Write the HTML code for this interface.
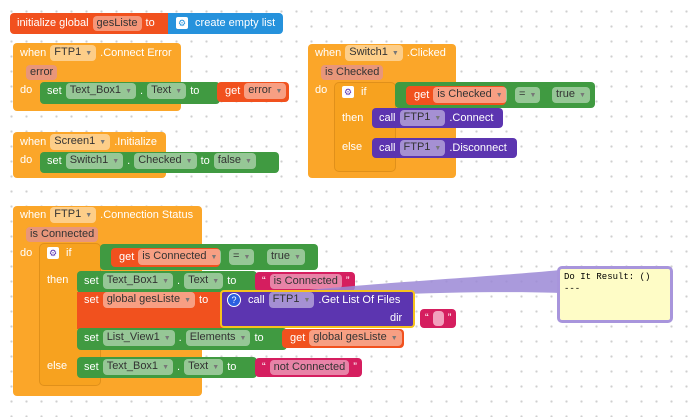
<!DOCTYPE html>
<html><head><style>
body{margin:0;width:690px;height:417px;overflow:hidden;background:#fff;background-image:radial-gradient(circle,#cfcfcf 1px,transparent 1.3px);background-size:15px 15px;background-position:4px 4px;font-family:"Liberation Sans",sans-serif;font-size:11px;color:#fff;position:relative}
.b{position:absolute;box-sizing:border-box;border-radius:4px}
.r{position:absolute;display:flex;align-items:center;gap:4px;white-space:nowrap;height:18px}
.p{background:rgba(255,255,255,.45);color:#333;border-radius:4px;padding:1px 4px;line-height:13px}
.p i{font-style:normal;font-size:7px;color:#777;margin-left:4px}
.ev{background:#fba629}
.gr{background:#409a41}
.rd{background:#f1511e}
.pu{background:#5c35b0}
.mg{background:#d51e5f}
.bl{background:#2692dc}
.gear{display:inline-block;width:12px;height:12px;background:#fff;border-radius:2px;color:#5c35b0;font-size:9px;text-align:center;line-height:12px}
</style></head><body>
<!-- init global -->
<div class="b rd" style="left:10px;top:13px;width:162px;height:21px"></div>
<div class="b bl" style="left:168px;top:13px;width:115px;height:21px;border-radius:0 4px 4px 0"></div>
<div class="r" style="left:17px;top:14px">initialize global <span class="p" style="background:rgba(255,255,255,.4)">gesListe</span> to</div>
<div class="r" style="left:176px;top:14px"><span class="gear" style="color:#2692dc">⚙</span>&nbsp;create empty list</div>

<!-- Connect Error -->
<div class="b ev" style="left:13px;top:43px;width:168px;height:68px"></div>
<div class="r" style="left:20px;top:44px">when <span class="p">FTP1<i>▼</i></span> .Connect Error</div>
<div class="r" style="left:26px;top:63px"><span class="p" style="background:#e8967a;color:#333">error</span></div>
<div class="r" style="left:20px;top:81px">do</div>
<div class="b gr" style="left:40px;top:82px;width:180px;height:22px"></div>
<div class="r" style="left:47px;top:82px">set <span class="p">Text_Box1<i>▼</i></span>.<span class="p">Text<i>▼</i></span> to</div>
<div class="b rd" style="left:217px;top:82px;width:72px;height:20px"></div>
<div class="r" style="left:225px;top:82px">get <span class="p">error<i>▼</i></span></div>

<!-- Screen1.Initialize -->
<div class="b ev" style="left:13px;top:132px;width:153px;height:46px"></div>
<div class="r" style="left:20px;top:133px">when <span class="p">Screen1<i>▼</i></span> .Initialize</div>
<div class="r" style="left:20px;top:151px">do</div>
<div class="b gr" style="left:40px;top:152px;width:239px;height:21px"></div>
<div class="r" style="left:47px;top:152px">set <span class="p">Switch1<i>▼</i></span>.<span class="p">Checked<i>▼</i></span> to <span class="p">false<i>▼</i></span></div>

<!-- Switch1.Clicked -->
<div class="b ev" style="left:308px;top:44px;width:148px;height:134px"></div>
<div class="r" style="left:315px;top:44px">when <span class="p">Switch1<i>▼</i></span> .Clicked</div>
<div class="r" style="left:321px;top:63px"><span class="p" style="background:#e8967a;color:#333">is Checked</span></div>
<div class="r" style="left:315px;top:81px">do</div>
<div class="b ev" style="left:335px;top:83px;width:60px;height:88px;background:#f7a21f;box-shadow:0 0 0 1px #e0901a"></div>
<div class="r" style="left:342px;top:83px"><span class="gear">⚙</span>&nbsp;if</div>
<div class="r" style="left:342px;top:109px">then</div>
<div class="r" style="left:342px;top:138px">else</div>
<div class="b gr" style="left:395px;top:82px;width:200px;height:26px"></div>
<div class="b rd" style="left:406px;top:86px;width:100px;height:19px"></div>
<div class="r" style="left:414px;top:86px">get <span class="p">is Checked<i>▼</i></span></div>
<div class="r" style="left:515px;top:86px"><span class="p">=<i>▼</i></span></div>
<div class="r" style="left:552px;top:86px"><span class="p">true<i>▼</i></span></div>
<div class="b pu" style="left:372px;top:108px;width:131px;height:20px"></div>
<div class="r" style="left:379px;top:109px">call <span class="p">FTP1<i>▼</i></span> .Connect</div>
<div class="b pu" style="left:372px;top:138px;width:145px;height:20px"></div>
<div class="r" style="left:379px;top:139px">call <span class="p">FTP1<i>▼</i></span> .Disconnect</div>

<!-- Connection Status -->
<div class="b ev" style="left:13px;top:206px;width:189px;height:190px"></div>
<div class="r" style="left:20px;top:206px">when <span class="p">FTP1<i>▼</i></span> .Connection Status</div>
<div class="r" style="left:26px;top:225px"><span class="p" style="background:#e8967a;color:#333">is Connected</span></div>
<div class="r" style="left:20px;top:244px">do</div>
<div class="b" style="left:40px;top:244px;width:60px;height:141px;background:#f7a21f;box-shadow:0 0 0 1px #e0901a"></div>
<div class="r" style="left:47px;top:244px"><span class="gear">⚙</span>&nbsp;if</div>
<div class="r" style="left:47px;top:271px">then</div>
<div class="r" style="left:47px;top:357px">else</div>
<div class="b gr" style="left:100px;top:244px;width:218px;height:26px"></div>
<div class="b rd" style="left:111px;top:248px;width:109px;height:19px"></div>
<div class="r" style="left:119px;top:248px">get <span class="p">is Connected<i>▼</i></span></div>
<div class="r" style="left:229px;top:248px"><span class="p">=<i>▼</i></span></div>
<div class="r" style="left:267px;top:248px"><span class="p">true<i>▼</i></span></div>

<div class="b gr" style="left:77px;top:271px;width:180px;height:22px"></div>
<div class="r" style="left:84px;top:272px">set <span class="p">Text_Box1<i>▼</i></span>.<span class="p">Text<i>▼</i></span> to</div>
<div class="b mg" style="left:255px;top:272px;width:100px;height:19px"></div>
<div class="r" style="left:262px;top:272px">“ <span class="p">is Connected</span> ”</div>

<div class="b rd" style="left:77px;top:292px;width:150px;height:37px;border-radius:0"></div>
<div class="r" style="left:84px;top:291px">set <span class="p">global gesListe<i>▼</i></span> to</div>
<div class="b" style="left:420px;top:309px;width:36px;height:19px;background:#d51e5f"></div>
<div class="r" style="left:425px;top:309px">“ <span class="p" style="background:#f2a0bd;padding:1px 4px">&nbsp;</span> ”</div>

<svg style="position:absolute;left:0;top:0" width="690" height="417">
<path d="M240,298 C330,285 480,278 560,270 L560,293 C480,290 340,295 250,303 Z" fill="#9b88d6" opacity=".85"/>
</svg>

<div class="b pu" style="left:220px;top:290px;width:195px;height:38px;border:2px solid #f6c21c"></div>
<div class="r" style="left:227px;top:291px"><span style="display:inline-block;width:12px;height:12px;border-radius:50%;background:#2a5fe0;border:1px solid #fff;text-align:center;line-height:12px;font-size:9px">?</span>&nbsp;call <span class="p">FTP1<i>▼</i></span> .Get List Of Files</div>
<div class="r" style="left:390px;top:309px">dir</div>

<div class="b gr" style="left:77px;top:328px;width:210px;height:22px"></div>
<div class="r" style="left:84px;top:329px">set <span class="p">List_View1<i>▼</i></span>.<span class="p">Elements<i>▼</i></span> to</div>
<div class="b rd" style="left:282px;top:329px;width:122px;height:19px"></div>
<div class="r" style="left:290px;top:329px">get <span class="p">global gesListe<i>▼</i></span></div>

<div class="b gr" style="left:77px;top:357px;width:180px;height:21px"></div>
<div class="r" style="left:84px;top:358px">set <span class="p">Text_Box1<i>▼</i></span>.<span class="p">Text<i>▼</i></span> to</div>
<div class="b mg" style="left:255px;top:358px;width:107px;height:19px"></div>
<div class="r" style="left:262px;top:358px">“ <span class="p">not Connected</span> ”</div>

<!-- balloon -->
<div class="b" style="left:557px;top:266px;width:116px;height:57px;background:#fefcc6;border:3px solid #a895dc;border-radius:5px;color:#000;font-family:'Liberation Mono',monospace;font-size:9px;padding:2px 4px;line-height:12px">Do It Result: ()<br>---</div>
</body></html>
